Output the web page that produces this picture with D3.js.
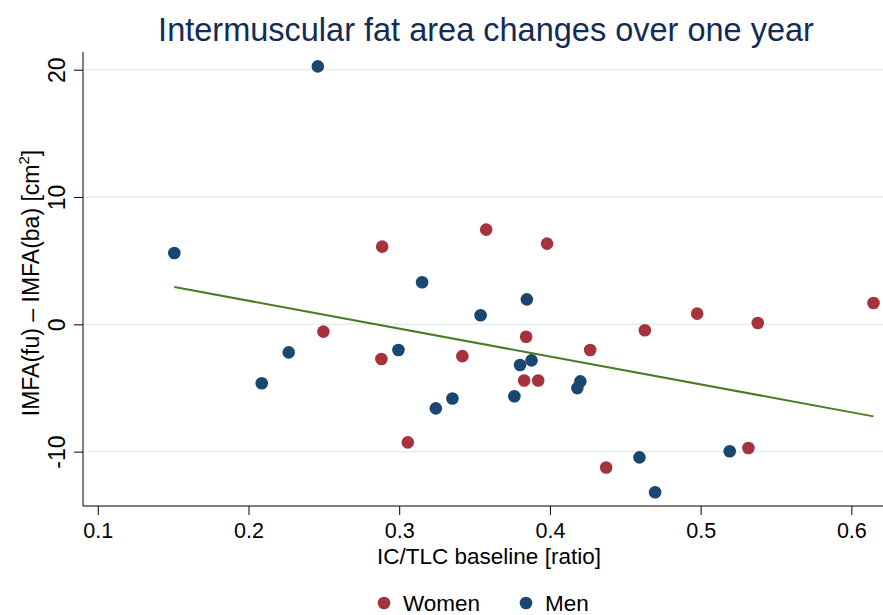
<!DOCTYPE html>
<html>
<head>
<meta charset="utf-8">
<script src="https://cdn.jsdelivr.net/npm/d3@7"></script>
<style>
  body { margin: 0; background: #fff; }
  text { font-family: "Liberation Sans", Arial, sans-serif; }
</style>
</head>
<body>
<div id="chart"></div>
<script>
// values
const menX = [0.246, 0.1508, 0.2088, 0.2267, 0.2995, 0.3152, 0.354, 0.3847, 0.3243, 0.3353,
              0.3764, 0.3802, 0.3878, 0.4202, 0.4182, 0.4594, 0.4698, 0.5193]
const menY = [20.26, 5.60, -4.63, -2.20, -2.02, 3.30, 0.71, 1.96, -6.60, -5.83,
              -5.65, -3.20, -2.83, -4.48, -5.01, -10.45, -13.19, -9.97]
const womenX = [0.2887, 0.3577, 0.3981, 0.2497, 0.2882, 0.3419, 0.3842, 0.3057, 0.3829,
                0.3922, 0.4267, 0.463, 0.4977, 0.5379, 0.6147, 0.4373, 0.5317]
const womenY = [6.10, 7.44, 6.34, -0.57, -2.72, -2.50, -0.98, -9.27, -4.41,
                -4.41, -2.02, -0.47, 0.84, 0.10, 1.67, -11.25, -9.71]
// fitted line end points
const fitX = [0.1508, 0.6147]
const fitY = [2.93, -7.23]
const xTicks = [0.1, 0.2, 0.3, 0.4, 0.5, 0.6]
const yTicks = [-10, 0, 10, 20]

const W = 883, H = 615
const margin = { top: 52, right: 0, bottom: 109, left: 83 }
const width = W - margin.left - margin.right
const height = H - margin.top - margin.bottom

const colWomen = "#a6323c", colMen = "#1a476f", colFit = "#4b7b26"

const svg = d3.select("#chart").append("svg")
    .attr("width", W)
    .attr("height", H)

const g = svg.append("g")
    .attr("transform", "translate(" + margin.left + "," + margin.top + ")")

const x = d3.scaleLinear().domain([0.0902, 0.6210]).range([0, width])
const y = d3.scaleLinear().domain([-14.27, 21.39]).range([height, 0])

// horizontal grid
g.selectAll("line.grid")
    .data(yTicks)
    .enter().append("line")
    .attr("class", "grid")
    .attr("x1", 0).attr("x2", width)
    .attr("y1", d => y(d)).attr("y2", d => y(d))
    .style("stroke", "#e4eef0")
    .style("stroke-width", 1.5)

// axes (plain hyphen for negatives, like the original)
const yAxis = g.append("g")
    .call(d3.axisLeft(y).tickValues(yTicks).tickSize(9).tickPadding(0).tickFormat(d => String(d)))
yAxis.select(".domain").attr("d", "M0," + height + "V0").style("stroke", "#000")
yAxis.selectAll(".tick line").style("stroke", "#000")
yAxis.selectAll(".tick text")
    .attr("transform", "rotate(-90)")
    .attr("x", 0).attr("y", -18).attr("dy", 0)
    .style("text-anchor", "middle")
    .style("font-size", "23px")
    .style("fill", "#000")

const xAxis = g.append("g")
    .attr("transform", "translate(0," + height + ")")
    .call(d3.axisBottom(x).tickValues(xTicks).tickSize(9).tickPadding(8).tickFormat(d3.format(".1f")))
xAxis.select(".domain").attr("d", "M0,0H" + width).style("stroke", "#000")
xAxis.selectAll(".tick line").style("stroke", "#000")
xAxis.selectAll(".tick text")
    .style("font-size", "21.5px")
    .style("fill", "#000")

// fit line
g.append("line")
    .attr("x1", x(fitX[0])).attr("y1", y(fitY[0]))
    .attr("x2", x(fitX[1])).attr("y2", y(fitY[1]))
    .style("stroke", colFit)
    .style("stroke-width", 2)

// points
const women = womenX.map((v, i) => ({ x: v, y: womenY[i] }))
const men = menX.map((v, i) => ({ x: v, y: menY[i] }))

g.selectAll(".women")
    .data(women)
    .enter().append("circle")
    .attr("class", "women")
    .attr("cx", d => x(d.x)).attr("cy", d => y(d.y))
    .attr("r", 6.3)
    .style("fill", colWomen)

g.selectAll(".men")
    .data(men)
    .enter().append("circle")
    .attr("class", "men")
    .attr("cx", d => x(d.x)).attr("cy", d => y(d.y))
    .attr("r", 6.3)
    .style("fill", colMen)

// title
svg.append("text")
    .attr("x", margin.left + width / 2 + 3)
    .attr("y", 41)
    .style("text-anchor", "middle")
    .style("font-size", "32.5px")
    .style("fill", "#132c55")
    .text("Intermuscular fat area changes over one year")

// axis titles
svg.append("text")
    .attr("x", margin.left + width / 2 + 6)
    .attr("y", 564)
    .style("text-anchor", "middle")
    .style("font-size", "22.5px")
    .style("fill", "#000")
    .text("IC/TLC baseline [ratio]")

const yTitle = svg.append("text")
    .attr("transform", "translate(39," + (margin.top + height / 2 + 4) + ") rotate(-90)")
    .style("text-anchor", "middle")
    .style("font-size", "23px")
    .style("fill", "#000")
yTitle.append("tspan").text("IMFA(fu) \u2013 IMFA(ba) [cm")
yTitle.append("tspan").attr("dy", -10).style("font-size", "15px").text("2")
yTitle.append("tspan").attr("dy", 10).text("]")

// legend
const legend = [{ name: "Women", color: colWomen, cx: 384 }, { name: "Men", color: colMen, cx: 526 }]
const leg = svg.selectAll(".legend")
    .data(legend)
    .enter().append("g")
    .attr("class", "legend")
leg.append("circle")
    .attr("cx", d => d.cx).attr("cy", 603)
    .attr("r", 6.3)
    .style("fill", d => d.color)
leg.append("text")
    .attr("x", d => d.cx + 19).attr("y", 611)
    .style("font-size", "22.5px")
    .style("fill", "#000")
    .text(d => d.name)
</script>
</body>
</html>
